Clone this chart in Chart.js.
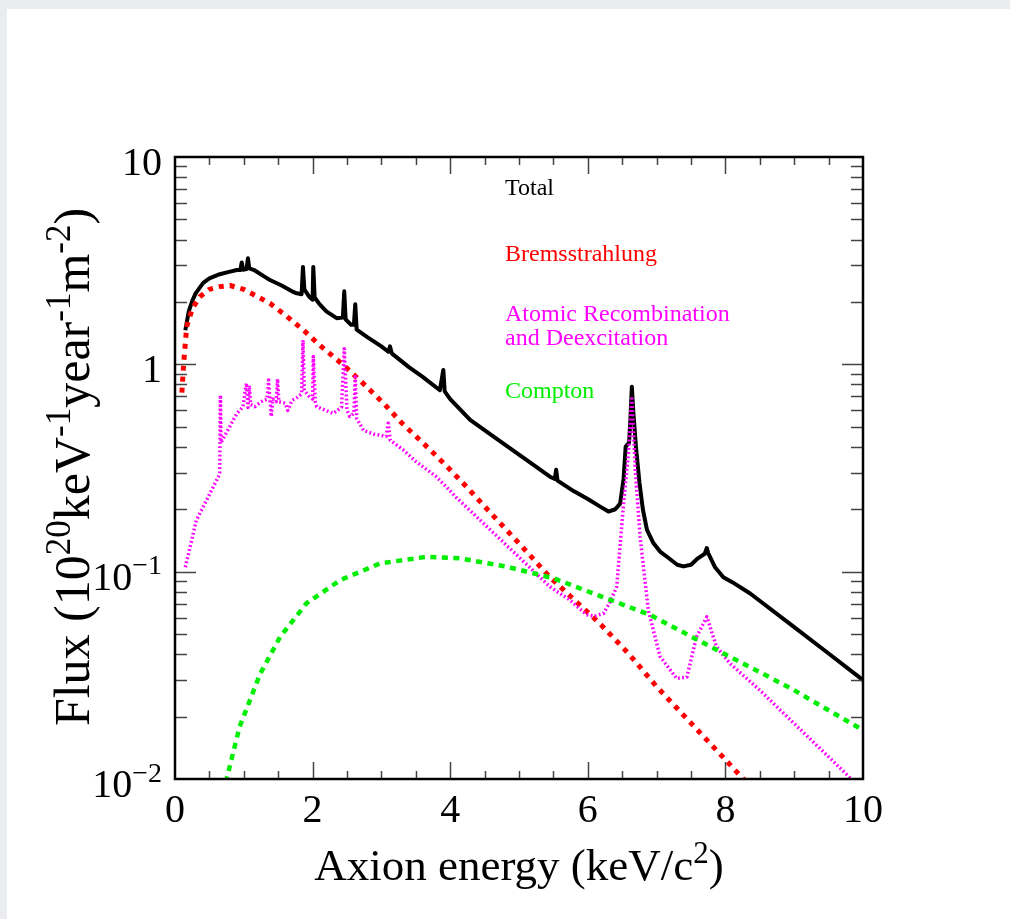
<!DOCTYPE html>
<html>
<head>
<meta charset="utf-8">
<script src="https://cdn.jsdelivr.net/npm/chart.js@4.4.0/dist/chart.umd.min.js"></script>
<style>
  body { margin: 0; background: #ebecf0; }
  #panel { position: absolute; left: 7px; top: 9px; width: 1003px; height: 910px; background: #fff; }
  #c { position: absolute; left: 0; top: 0; }
</style>
</head>
<body>
<div id="panel"></div>
<canvas id="c" width="1010" height="919"></canvas>
<script>
// energy in keV, flux in 1e20 keV^-1 year^-1 m^-2
var totalE = [0.15,0.2,0.25,0.3,0.41,0.5,0.65,0.8,0.9,0.95,0.97,0.99,1.04,1.06,1.08,1.15,1.3,1.38,1.55,1.7,1.77,1.84,1.86,1.88,1.95,2.0,2.01,2.03,2.1,2.2,2.35,2.44,2.46,2.48,2.56,2.6,2.62,2.64,2.8,3.0,3.1,3.125,3.15,3.4,3.6,3.85,3.9,3.92,4.0,4.29,4.6,5.0,5.2,5.45,5.52,5.54,5.56,5.8,6.0,6.18,6.3,6.4,6.47,6.52,6.55,6.6,6.62,6.64,6.66,6.7,6.75,6.8,6.86,6.95,7.05,7.15,7.3,7.39,7.5,7.6,7.7,7.73,7.75,7.85,7.97,8.1,8.36,9.0,9.5,10.0];
var totalF = [1.46,1.8,2.02,2.2,2.47,2.6,2.72,2.8,2.85,2.85,3.1,2.86,2.88,3.25,2.9,2.85,2.65,2.55,2.4,2.25,2.2,2.18,2.95,2.3,2.12,2.05,2.95,2.1,1.95,1.8,1.67,1.68,2.25,1.65,1.55,1.55,1.95,1.47,1.35,1.22,1.15,1.22,1.13,0.97,0.87,0.75,0.94,0.74,0.68,0.54,0.456,0.367,0.329,0.287,0.28,0.31,0.275,0.244,0.224,0.206,0.195,0.2,0.213,0.28,0.40,0.42,0.55,0.78,0.6,0.40,0.27,0.2,0.159,0.138,0.125,0.118,0.108,0.106,0.108,0.116,0.122,0.13,0.123,0.105,0.094,0.089,0.0785,0.054,0.0403,0.030];

var bremE = [0.1,0.13,0.17,0.25,0.36,0.5,0.65,0.8,1.0,1.2,1.38,1.6,1.87,2.1,2.45,2.75,3.03,3.3,3.61,3.9,4.19,4.6,5.0,5.45,6.18,6.6,7.0,7.5,8.0,8.26,8.3];
var bremF = [0.73,1.05,1.52,1.85,2.12,2.3,2.37,2.4,2.3,2.12,1.97,1.73,1.46,1.24,0.99,0.8,0.65,0.52,0.416,0.335,0.267,0.19,0.137,0.094,0.056,0.040,0.0279,0.0186,0.0124,0.0100,0.0096];

var atomE = [0.15,0.17,0.31,0.51,0.63,0.65,0.66,0.67,0.9,0.99,1.02,1.04,1.06,1.08,1.1,1.16,1.25,1.34,1.36,1.38,1.4,1.42,1.47,1.49,1.51,1.6,1.64,1.7,1.77,1.84,1.86,1.88,1.95,2.0,2.01,2.04,2.06,2.3,2.42,2.46,2.5,2.54,2.6,2.62,2.64,2.74,2.9,3.07,3.1,3.13,3.32,3.5,3.8,4.1,4.5,5.0,5.45,5.74,5.98,6.1,6.23,6.32,6.42,6.52,6.59,6.64,6.69,6.76,6.88,7.05,7.29,7.44,7.58,7.73,7.87,8.07,8.5,9.0,9.5,9.83,9.9];
var atomF = [0.105,0.112,0.177,0.239,0.287,0.30,0.71,0.42,0.58,0.625,0.75,0.81,0.62,0.79,0.64,0.625,0.66,0.68,0.84,0.67,0.56,0.68,0.66,0.85,0.66,0.65,0.6,0.67,0.69,0.72,1.31,0.75,0.70,0.68,1.09,0.66,0.625,0.58,0.62,1.19,0.6,0.56,0.58,0.87,0.55,0.48,0.46,0.45,0.52,0.43,0.386,0.34,0.287,0.226,0.169,0.1175,0.0845,0.073,0.062,0.061,0.063,0.071,0.0845,0.213,0.37,0.7,0.31,0.147,0.065,0.039,0.0306,0.031,0.0485,0.0605,0.0435,0.036,0.0268,0.0185,0.0128,0.0100,0.0095];

var comptonE = [0.72,0.75,0.94,1.24,1.53,1.91,2.4,2.98,3.66,4.14,4.82,5.5,6.2,6.9,7.9,8.94,10.0];
var comptonF = [0.0085,0.0100,0.0179,0.0323,0.0486,0.0703,0.091,0.1096,0.118,0.116,0.1057,0.093,0.0758,0.062,0.0415,0.0275,0.0172];

var xMajor = [0,2,4,6,8,10];
var yMajor = [0.01,0.1,1,10];
var yLabels = [["10","\u22122"],["10","\u22121"],["1",""],["10",""]];

var legendItems = [
  {lines: ["Total"], color: "#000000", y: 195},
  {lines: ["Bremsstrahlung"], color: "#ff0000", y: 261},
  {lines: ["Atomic Recombination", "and Deexcitation"], color: "#ff00ff", y: 321},
  {lines: ["Compton"], color: "#00ee00", y: 398}
];

function pts(xs, ys) {
  var out = [];
  for (var i = 0; i < xs.length; i++) out.push({x: xs[i], y: ys[i]});
  return out;
}

var SERIF = '"Liberation Serif", "DejaVu Serif", serif';

// segments alternate normal / superscript
function richWidth(ctx, segs, size) {
  var w = 0;
  for (var i = 0; i < segs.length; i++) {
    ctx.font = (i % 2 ? Math.round(size * 0.7) : size) + 'px ' + SERIF;
    w += ctx.measureText(segs[i]).width;
  }
  return w;
}
function drawRich(ctx, segs, size, x, y) {
  for (var i = 0; i < segs.length; i++) {
    if (!segs[i]) continue;
    var sup = i % 2 == 1;
    ctx.font = (sup ? Math.round(size * 0.7) : size) + 'px ' + SERIF;
    ctx.fillText(segs[i], x, sup ? y - size * 0.38 : y);
    x += ctx.measureText(segs[i]).width;
  }
}

var framePlugin = {
  id: 'frame',
  afterDatasetsDraw: function(chart) {
    var ctx = chart.ctx, a = chart.chartArea;
    var xs = chart.scales.x, ys = chart.scales.y;
    ctx.save();
    // inward ticks on all four sides
    ctx.strokeStyle = '#444';
    ctx.lineWidth = 1.5;
    ctx.beginPath();
    for (var k = 1; k < 20; k++) {
      var v = k * 0.5;
      var px = Math.round(xs.getPixelForValue(v)) + 0.5;
      var len = (k % 4 == 0) ? 17 : 8;
      ctx.moveTo(px, a.bottom); ctx.lineTo(px, a.bottom - len);
      ctx.moveTo(px, a.top); ctx.lineTo(px, a.top + len);
    }
    for (var e = -2; e <= 0; e++) {
      for (var m = 1; m <= 9; m++) {
        if (e == -2 && m == 1) continue;
        var val = m * Math.pow(10, e);
        var py = Math.round(ys.getPixelForValue(val)) + 0.5;
        var l = (m == 1) ? 21 : 12;
        ctx.moveTo(a.left, py); ctx.lineTo(a.left + l, py);
        ctx.moveTo(a.right, py); ctx.lineTo(a.right - l, py);
      }
    }
    ctx.stroke();
    ctx.strokeStyle = '#000';
    ctx.lineWidth = 2.5;
    ctx.strokeRect(a.left, a.top, a.right - a.left, a.bottom - a.top);

    ctx.fillStyle = '#000';
    ctx.textBaseline = 'alphabetic';
    ctx.font = '40px ' + SERIF;
    ctx.textAlign = 'center';
    xMajor.forEach(function(v) {
      ctx.fillText(String(v), xs.getPixelForValue(v), a.bottom + 43);
    });
    ctx.textAlign = 'left';
    yMajor.forEach(function(v, i) {
      var segs = yLabels[i];
      var w = richWidth(ctx, segs, 40);
      drawRich(ctx, segs, 40, 162 - w, ys.getPixelForValue(v) + 18);
    });
    var xt = ["Axion energy (keV/c", "2", ")"];
    var wx = richWidth(ctx, xt, 45);
    drawRich(ctx, xt, 45, 519 - wx / 2, 880);
    var yt = ["Flux (10", "20", "keV", "-1", "year", "-1", "m", "-2", ")"];
    var wy = richWidth(ctx, yt, 50);
    ctx.save();
    ctx.translate(89, 467);
    ctx.rotate(-Math.PI / 2);
    drawRich(ctx, yt, 50, -wy / 2, 0);
    ctx.restore();
    ctx.font = '24px ' + SERIF;
    legendItems.forEach(function(it) {
      ctx.fillStyle = it.color;
      it.lines.forEach(function(t, j) {
        ctx.fillText(t, 505, it.y + j * 24);
      });
    });
    ctx.restore();
  }
};

new Chart(document.getElementById('c'), {
  type: 'line',
  data: {
    datasets: [
      {label: 'Compton', data: pts(comptonE, comptonF), borderColor: '#00ee00', borderWidth: 4.5, borderDash: [6, 5.5]},
      {label: 'Atomic Recombination and Deexcitation', data: pts(atomE, atomF), borderColor: '#ff00ff', borderWidth: 3.5, borderDash: [1.8, 2.4]},
      {label: 'Bremsstrahlung', data: pts(bremE, bremF), borderColor: '#ff0000', borderWidth: 5, borderDash: [5, 6]},
      {label: 'Total', data: pts(totalE, totalF), borderColor: '#000000', borderWidth: 4}
    ]
  },
  options: {
    responsive: false,
    devicePixelRatio: 1,
    animation: false,
    layout: {padding: {left: 175, right: 147, top: 157, bottom: 140}},
    elements: {point: {radius: 0}, line: {tension: 0, fill: false, borderJoinStyle: 'round'}},
    plugins: {legend: {display: false}, tooltip: {enabled: false}},
    scales: {
      x: {type: 'linear', min: 0, max: 10, display: false},
      y: {type: 'logarithmic', min: 0.01, max: 10, display: false}
    }
  },
  plugins: [framePlugin]
});
</script>
</body>
</html>
